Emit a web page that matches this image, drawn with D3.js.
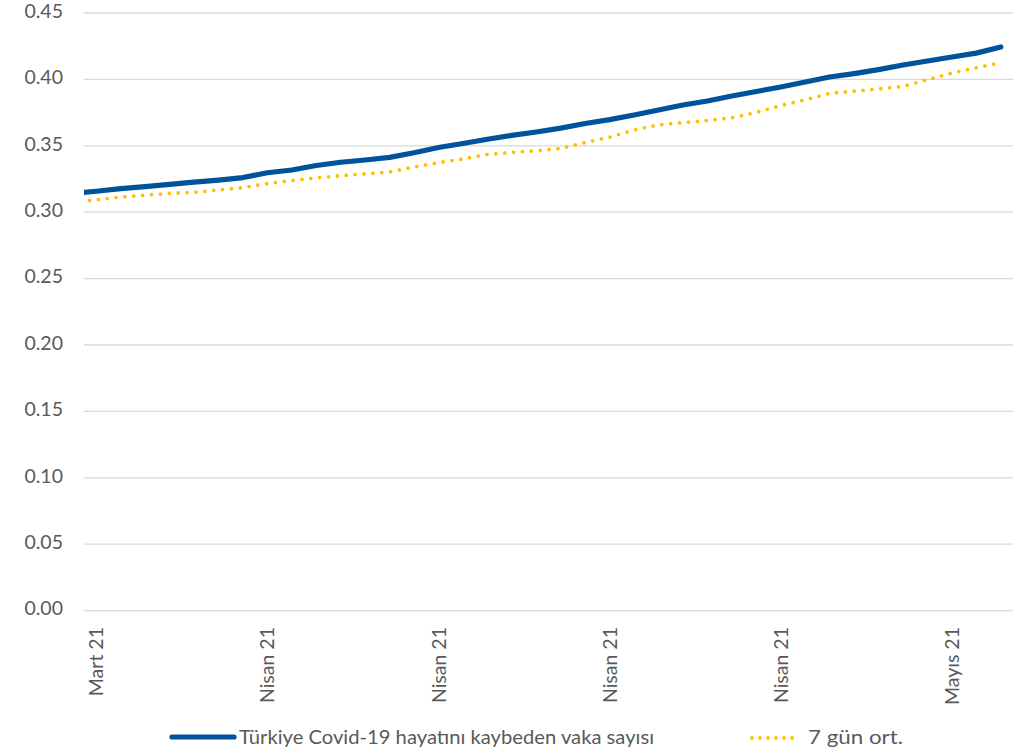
<!DOCTYPE html>
<html>
<head>
<meta charset="utf-8">
<script src="https://cdn.jsdelivr.net/npm/d3@7"></script>
<style>
  html, body { margin: 0; padding: 0; background: #fff; }
  svg { display: block; }
  text { font-family: Lato, "Open Sans", sans-serif; fill: #595959; }
</style>
</head>
<body>
<svg id="chart" width="1035" height="750"></svg>
<script>
// Daily dates (UTC)
const dates = [
  "2021-03-28","2021-03-29","2021-03-30","2021-03-31","2021-04-01","2021-04-02","2021-04-03",
  "2021-04-04","2021-04-05","2021-04-06","2021-04-07","2021-04-08","2021-04-09","2021-04-10",
  "2021-04-11","2021-04-12","2021-04-13","2021-04-14","2021-04-15","2021-04-16","2021-04-17",
  "2021-04-18","2021-04-19","2021-04-20","2021-04-21","2021-04-22","2021-04-23","2021-04-24",
  "2021-04-25","2021-04-26","2021-04-27","2021-04-28","2021-04-29","2021-04-30","2021-05-01",
  "2021-05-02","2021-05-03","2021-05-04","2021-05-05"
];

// Türkiye Covid-19 hayatını kaybeden vaka sayısı
const deaths = [
  0.3141, 0.3158, 0.3178, 0.3192, 0.3210, 0.3227, 0.3242,
  0.3261, 0.3297, 0.3318, 0.3352, 0.3376, 0.3393, 0.3413,
  0.3448, 0.3487, 0.3517, 0.3549, 0.3578, 0.3604, 0.3633,
  0.3668, 0.3697, 0.3732, 0.3770, 0.3807, 0.3837, 0.3875,
  0.3909, 0.3943, 0.3980, 0.4018, 0.4044, 0.4074, 0.4108,
  0.4139, 0.4169, 0.4198, 0.4244
];

// 7 gün ort.
const avg7 = [
  0.3078, 0.3093, 0.3114, 0.3128, 0.3142, 0.3150, 0.3167,
  0.3185, 0.3215, 0.3239, 0.3258, 0.3275, 0.3289, 0.3303,
  0.3340, 0.3373, 0.3401, 0.3436, 0.3450, 0.3463, 0.3480,
  0.3525, 0.3565, 0.3619, 0.3657, 0.3675, 0.3690, 0.3711,
  0.3751, 0.3803, 0.3846, 0.3895, 0.3911, 0.3928, 0.3947,
  0.3999, 0.4048, 0.4087, 0.4127
];

const yTicks = [0, 0.05, 0.10, 0.15, 0.20, 0.25, 0.30, 0.35, 0.40, 0.45];
const monthNames = ["Ocak","Şubat","Mart","Nisan","Mayıs","Haziran","Temmuz","Ağustos","Eylül","Ekim","Kasım","Aralık"];
const seriesNames = ["Türkiye Covid-19 hayatını kaybeden vaka sayısı", "7 gün ort."];

const parse = d3.utcParse("%Y-%m-%d");
const days = dates.map(parse);

const plot = { left: 84, right: 1013, top: 13, bottom: 610.6 };
const svg = d3.select("#chart");

const halfDay = 12 * 3600 * 1000;
const x = d3.scaleUtc()
  .domain([new Date(days[0].getTime() + halfDay), new Date(days[days.length - 1].getTime() + halfDay)])
  .range([plot.left, plot.right]);
const y = d3.scaleLinear().domain([0, 0.45]).range([plot.bottom, plot.top]);

// Horizontal gridlines
svg.append("g")
  .selectAll("line")
  .data(yTicks)
  .join("line")
  .attr("x1", plot.left).attr("x2", plot.right)
  .attr("y1", d => y(d)).attr("y2", d => y(d))
  .attr("stroke", "#d9d9d9").attr("stroke-width", 1.3);

// Y axis labels
svg.append("g")
  .selectAll("text")
  .data(yTicks)
  .join("text")
  .attr("x", 63)
  .attr("y", d => y(d) - 2)
  .attr("dy", "0.35em")
  .attr("text-anchor", "end")
  .style("font-size", "19.5px")
  .text(d => d3.format(".2f")(d));

// X axis labels (weekly, rotated)
const tickDays = days.filter((d, i) => i % 7 === 1);
const fmtTick = d => monthNames[d.getUTCMonth()] + " " + d3.utcFormat("%y")(d);
svg.append("g")
  .selectAll("text")
  .data(tickDays)
  .join("text")
  .attr("transform", d => `translate(${x(d)},627) rotate(-90)`)
  .attr("text-anchor", "end")
  .attr("dy", "0.36em")
  .style("font-size", "19.5px")
  .text(fmtTick);

// Clip lines to plot area
svg.append("defs").append("clipPath").attr("id", "plot-clip")
  .append("rect")
  .attr("x", plot.left).attr("y", 0)
  .attr("width", plot.right - plot.left).attr("height", plot.bottom);

const lineGen = vals => d3.line()
  .x((d, i) => x(days[i]))
  .y(d => y(d))(vals);

const lines = svg.append("g").attr("clip-path", "url(#plot-clip)");

lines.append("path")
  .attr("d", lineGen(avg7))
  .attr("fill", "none")
  .attr("stroke", "#FFC000")
  .attr("stroke-width", 3.8)
  .attr("stroke-linecap", "round")
  .attr("stroke-linejoin", "round")
  .attr("stroke-dasharray", "0 8.9");

lines.append("path")
  .attr("d", lineGen(deaths))
  .attr("fill", "none")
  .attr("stroke", "#00529B")
  .attr("stroke-width", 5.2)
  .attr("stroke-linecap", "round")
  .attr("stroke-linejoin", "round");

// Legend
const leg = svg.append("g");
leg.append("line")
  .attr("x1", 172).attr("x2", 234).attr("y1", 737).attr("y2", 737)
  .attr("stroke", "#00529B").attr("stroke-width", 5.2).attr("stroke-linecap", "round");
leg.append("text")
  .attr("x", 239).attr("y", 744)
  .style("font-size", "19px")
  .attr("textLength", 415).attr("lengthAdjust", "spacingAndGlyphs")
  .text(seriesNames[0]);
leg.append("line")
  .attr("x1", 752).attr("x2", 800).attr("y1", 738).attr("y2", 738)
  .attr("stroke", "#FFC000").attr("stroke-width", 3.8)
  .attr("stroke-linecap", "round").attr("stroke-dasharray", "0 8");
leg.append("text")
  .attr("x", 808).attr("y", 744)
  .style("font-size", "19px")
  .attr("textLength", 95).attr("lengthAdjust", "spacingAndGlyphs")
  .text(seriesNames[1]);
</script>
</body>
</html>
